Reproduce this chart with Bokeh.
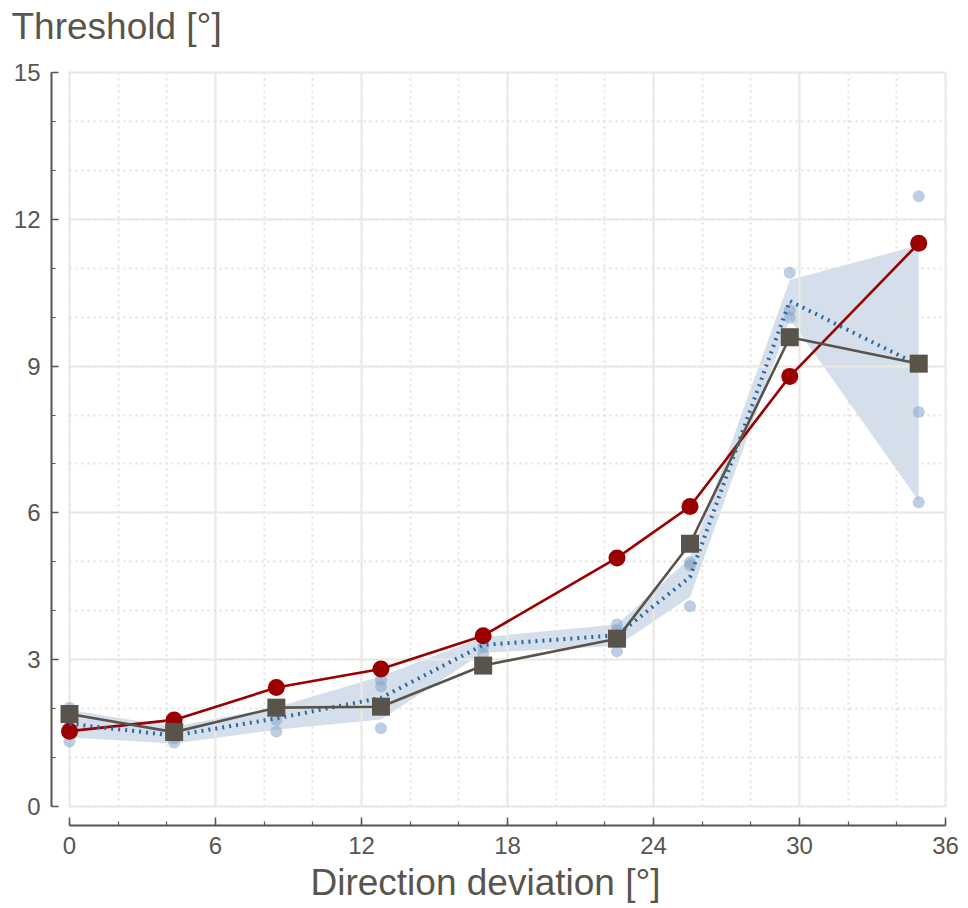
import numpy as np
from bokeh.plotting import figure
from bokeh.models import (LinearAxis, Grid, SingleIntervalTicker, Label, Range1d)
from bokeh.embed import file_html
from bokeh.resources import INLINE

# ---- data ----
deviation = [0.0, 4.3, 8.5, 12.8, 17.0, 22.5, 25.5, 29.6, 34.9]
red_threshold = [1.54, 1.77, 2.43, 2.81, 3.49, 5.08, 6.13, 8.79, 11.51]
gray_threshold = [1.89, 1.52, 2.02, 2.04, 2.88, 3.43, 5.37, 9.59, 9.05]
blue_mean = [1.69, 1.45, 1.80, 2.22, 3.30, 3.50, 4.69, 10.33, 9.02]
blue_low = [1.41, 1.29, 1.57, 1.78, 3.14, 3.28, 4.28, 9.96, 6.25]
blue_high = [1.97, 1.63, 2.03, 2.66, 3.46, 3.72, 5.08, 10.76, 11.47]
blue_pts_a = [2.02, 1.65, 2.00, 2.59, 3.43, 3.72, 4.99, 10.91, 12.47]
blue_pts_b = [1.72, 1.39, 1.77, 2.45, 3.26, 3.60, 4.93, 10.14, 8.06]
blue_pts_c = [1.33, 1.31, 1.53, 1.60, 3.12, 3.17, 4.09, 9.99, 6.22]
x_tick_interval = 6
y_tick_interval = 3
x_limits = (0, 36)
y_limits = (0, 15)
title_text = "Threshold [°]"
xlabel_text = "Direction deviation [°]"

# ---- layout geometry (pixels) ----
W, H = 962, 906
X0_PX, X36_PX = 69, 945      # pixel positions of x = 0 and x = 36
Y0_PX, Y15_PX = 806, 72      # pixel positions of y = 0 and y = 15
PXU_X = (X36_PX - X0_PX) / (x_limits[1] - x_limits[0])
PXU_Y = (Y0_PX - Y15_PX) / (y_limits[1] - y_limits[0])
YAXIS_PX = 51                # y-axis line position
XAXIS_PX = 825               # x-axis line position

TXT = "#59554c"
FONT = "Liberation Sans"

p = figure(frame_width=W, frame_height=H, x_axis_type=None, y_axis_type=None,
           x_range=Range1d(-X0_PX / PXU_X, (W - X0_PX) / PXU_X),
           y_range=Range1d(-(H - Y0_PX) / PXU_Y, Y0_PX / PXU_Y),
           output_backend="svg", toolbar_location=None, min_border=0)
p.outline_line_color = None
p.background_fill_color = "white"
p.border_fill_color = "white"

xt = SingleIntervalTicker(interval=x_tick_interval, num_minor_ticks=3)
yt = SingleIntervalTicker(interval=y_tick_interval, num_minor_ticks=3)

for dim, tk, b, cb in [(0, xt, x_limits, y_limits), (1, yt, y_limits, x_limits)]:
    g = Grid(dimension=dim, ticker=tk, bounds=b, cross_bounds=cb,
             grid_line_color="#ebe9e4", grid_line_width=2,
             minor_grid_line_color="#e2e0da", minor_grid_line_width=2,
             minor_grid_line_dash="2 4")
    p.add_layout(g, "center")

def style_axis(ax, tin, standoff):
    ax.axis_line_color = TXT
    ax.axis_line_width = 2
    ax.major_tick_line_color = TXT
    ax.minor_tick_line_color = TXT
    ax.major_tick_line_width = 1.5
    ax.minor_tick_line_width = 1.2
    ax.major_tick_in = tin
    ax.major_tick_out = 0
    ax.minor_tick_in = 4
    ax.minor_tick_out = 0
    ax.major_label_text_font = FONT
    ax.major_label_text_font_size = "24px"
    ax.major_label_text_color = TXT
    ax.major_label_standoff = standoff

ay = LinearAxis(ticker=yt, bounds=y_limits,
                fixed_location=(YAXIS_PX - X0_PX) / PXU_X)
style_axis(ay, 7, 11)
ax_ = LinearAxis(ticker=xt, bounds=x_limits,
                 fixed_location=-(XAXIS_PX - Y0_PX) / PXU_Y)
style_axis(ax_, 8, 11)
p.add_layout(ay, "left")
p.add_layout(ax_, "below")

# band
band = p.varea(x=deviation, y1=blue_low, y2=blue_high, fill_color="#b7c9de", fill_alpha=0.6)
band.level = "image"

# individual blue points
px = deviation * 3
py = blue_pts_a + blue_pts_b + blue_pts_c
p.scatter(px, py, size=12, marker="circle", fill_color="#87a6cb", fill_alpha=0.55, line_color=None)

# red series
p.line(deviation, red_threshold, line_color="#9b0000", line_width=2.6)
p.scatter(deviation, red_threshold, marker="circle", size=17, fill_color="#9b0000", line_color=None)

# dotted blue mean
p.line(deviation, blue_mean, line_color="#2c67a3", line_width=4, line_dash="2 5")

# gray series
p.line(deviation, gray_threshold, line_color="#58544b", line_width=2.6)
p.scatter(deviation, gray_threshold, marker="square", size=18, fill_color="#58544b", line_color=None)

p.add_layout(Label(x=11, y=H - 26, x_units="screen", y_units="screen", text=title_text,
                   text_font=FONT, text_font_size="37px", text_color=TXT,
                   text_baseline="alphabetic", text_align="left"))
p.add_layout(Label(x=485, y=H - 882, x_units="screen", y_units="screen", text=xlabel_text,
                   text_font=FONT, text_font_size="37px", text_color=TXT,
                   text_baseline="alphabetic", text_align="center"))

open("out.html", "w").write(file_html(p, INLINE))
